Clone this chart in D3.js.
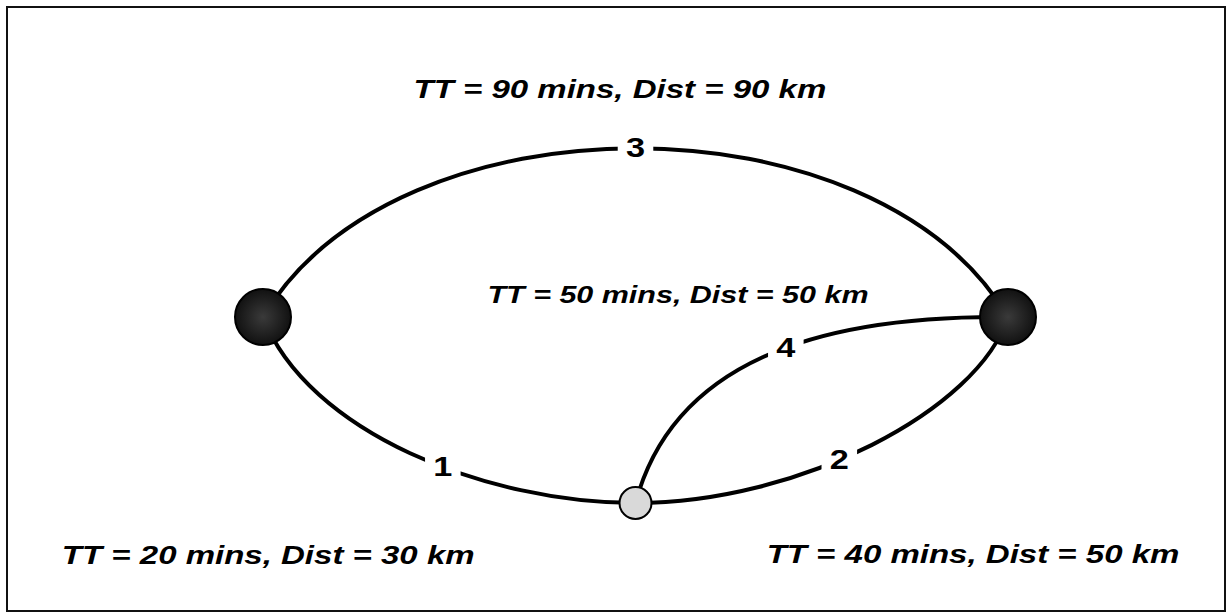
<!DOCTYPE html>
<html>
<head>
<meta charset="utf-8">
<script src="https://cdn.jsdelivr.net/npm/d3@7"></script>
<style>
  html, body { margin: 0; padding: 0; background: #fff; }
  svg { display: block; }
  .info { font-family: "Liberation Sans", Arial, sans-serif; font-weight: bold; font-style: italic; fill: #000; }
  .num { font-family: "Liberation Sans", Arial, sans-serif; font-weight: bold; font-size: 27px; fill: #000; }
</style>
</head>
<body>
<div id="chart"></div>
<script>
// Network data
const nodeIds = ["left", "right", "mid"];
const nodeKinds = ["dest", "dest", "origin"];

const linkIds = [1, 2, 3, 4];
const linkFrom = ["left", "mid", "left", "mid"];
const linkTo = ["mid", "right", "right", "right"];
const travelTimes = [20, 40, 90, 50];   // mins
const distances = [30, 50, 90, 50];     // km

// Layout (unit space: left node x=0, right node x=1; top nodes y=0, bottom node y=1)
const nodePos = { left: [0, 0], right: [1, 0], mid: [0.5, 1] };
// cubic control points per link, in unit space
const linkCtrl = {
  1: [[0.06, 0.62], [0.3, 1.0]],
  2: [[0.72, 1.0], [0.96, 0.5]],
  3: [[0.18, -1.21], [0.82, -1.21]],
  4: [[0.55, 0.25], [0.74, -0.01]]
};
const labelAt = { 1: 0.55, 2: 0.48, 3: 0.5, 4: 0.5 };
// info text anchors (unit space) and sizes
const infoPos = { 1: [0.007, 1.33], 2: [0.953, 1.32], 3: [0.479, -1.18], 4: [0.557, -0.075] };
const infoSize = { 1: 26, 2: 26, 3: 26, 4: 24 };

const width = 1227, height = 612;
const stretch = 1.27; // source picture is wider than tall

const x = d3.scaleLinear().domain([0, 1]).range([263, 1008]);
const y = d3.scaleLinear().domain([0, 1]).range([317, 503]);

const svg = d3.select("#chart").append("svg")
  .attr("width", width)
  .attr("height", height);

svg.append("rect")
  .attr("x", 7).attr("y", 7)
  .attr("width", 1218).attr("height", 604)
  .attr("fill", "none")
  .attr("stroke", "#111")
  .attr("stroke-width", 2);

const links = linkIds.map((id, i) => ({
  id, from: linkFrom[i], to: linkTo[i], tt: travelTimes[i], dist: distances[i]
}));

function linkPath(d) {
  const p = d3.path();
  const a = nodePos[d.from], b = nodePos[d.to];
  const [c1, c2] = linkCtrl[d.id];
  p.moveTo(x(a[0]), y(a[1]));
  p.bezierCurveTo(x(c1[0]), y(c1[1]), x(c2[0]), y(c2[1]), x(b[0]), y(b[1]));
  return p.toString();
}

const g = svg.append("g");

const paths = g.selectAll("path.link")
  .data(links)
  .join("path")
  .attr("class", "link")
  .attr("d", linkPath)
  .attr("fill", "none")
  .attr("stroke", "#000")
  .attr("stroke-width", 4);

// link number labels with a white gap in the line
paths.each(function(d) {
  const len = this.getTotalLength();
  const pt = this.getPointAtLength(len * labelAt[d.id]);
  d.lx = pt.x; d.ly = pt.y;
});

const labels = g.selectAll("g.lbl")
  .data(links)
  .join("g")
  .attr("class", "lbl")
  .attr("transform", d => `translate(${d.lx},${d.ly}) scale(${stretch},1)`);

labels.append("rect")
  .attr("x", -14).attr("y", -17)
  .attr("width", 28).attr("height", 34)
  .attr("fill", "#fff");

labels.append("text")
  .attr("class", "num")
  .attr("text-anchor", "middle")
  .attr("dy", "0.33em")
  .text(d => d.id);

// nodes
const nodes = nodeIds.map((id, i) => ({ id, kind: nodeKinds[i] }));
const defs = svg.append("defs");
const dark = defs.append("radialGradient").attr("id", "dark");
dark.append("stop").attr("offset", "0%").attr("stop-color", "#3a3a3a");
dark.append("stop").attr("offset", "100%").attr("stop-color", "#111");

g.selectAll("circle.node")
  .data(nodes)
  .join("circle")
  .attr("class", "node")
  .attr("cx", d => x(nodePos[d.id][0]))
  .attr("cy", d => y(nodePos[d.id][1]))
  .attr("r", d => d.kind === "dest" ? 28 : 16)
  .attr("fill", d => d.kind === "dest" ? "url(#dark)" : "#d9d9d9")
  .attr("stroke", "#000")
  .attr("stroke-width", 2);

// info texts
g.selectAll("text.info")
  .data(links)
  .join("text")
  .attr("class", "info")
  .attr("text-anchor", "middle")
  .style("font-size", d => infoSize[d.id] + "px")
  .attr("transform", d => `translate(${x(infoPos[d.id][0])},${y(infoPos[d.id][1])}) scale(${stretch},1)`)
  .text(d => `TT = ${d.tt} mins, Dist = ${d.dist} km`);
</script>
</body>
</html>
